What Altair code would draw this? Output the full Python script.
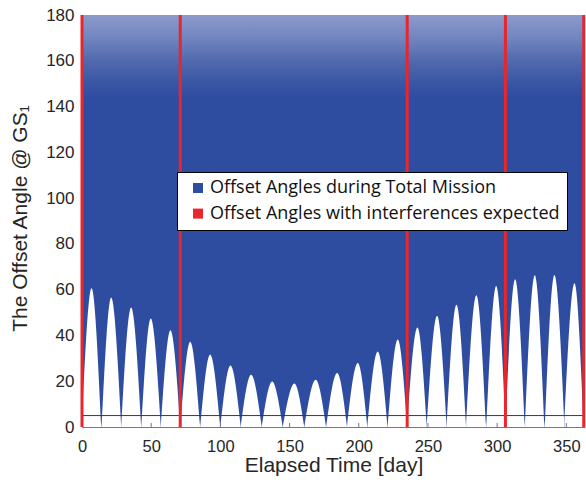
import altair as alt
import pandas as pd

# ---- data ----
cusp_day = [0, 14.1, 28.3, 42.8, 56.9, 71.0, 85.4, 99.9, 114.7, 129.9, 145.1, 160.7,
            176.4, 191.5, 206.2, 220.8, 234.9, 249.2, 263.6, 277.6, 292.1, 306.0,
            320.2, 334.4, 348.6, 362.6]
peak_day = [6.9, 21.1, 35.5, 49.7, 63.9, 78.2, 92.6, 107.3, 122.2, 137.4, 153.5,
            168.9, 184.4, 199.3, 213.7, 228.2, 242.4, 256.6, 270.6, 285.0, 299.3,
            313.0, 327.2, 341.4, 355.9]
peak_val = [60.6, 56.6, 52.2, 47.4, 42.3, 37.2, 31.7, 26.9, 22.8, 19.9, 19.0,
            20.6, 23.6, 28.0, 33.0, 38.2, 43.5, 48.6, 53.4, 57.6, 61.6,
            64.6, 66.3, 66.4, 62.8]
day_range = [0, 363.5]
angle_range = [0, 180]
red_days = [0, 71.0, 235.0, 306.0, 362.6]
threshold = [5]
x_ticks = [0, 50, 100, 150, 200, 250, 300, 350]
y_ticks = [0, 20, 40, 60, 80, 100, 120, 140, 160, 180]
series = ["Offset Angles during Total Mission", "Offset Angles with interferences expected"]

BLUE = "#2F4DA0"
RED = "#E8262C"
TXT = "#262626"

# white gaps under the lower envelope: one arch per pair of cusps
arch_rows = []
for i in range(len(peak_day)):
    arch_rows.append({"arch": i, "day": cusp_day[i], "v": 0.0})
    arch_rows.append({"arch": i, "day": peak_day[i], "v": peak_val[i]})
    arch_rows.append({"arch": i, "day": cusp_day[i + 1], "v": 0.0})
arches = pd.DataFrame(arch_rows)

full = pd.DataFrame({"day": day_range, "low": [angle_range[0]] * 2, "high": [angle_range[1]] * 2})

xs = alt.Scale(domain=day_range, nice=False, zero=False)
ys = alt.Scale(domain=angle_range, nice=False)

grad = alt.Gradient(
    gradient="linear", x1=0, x2=0, y1=0, y2=1,
    stops=[
        alt.GradientStop(offset=0.0, color="#8C9BCB"),
        alt.GradientStop(offset=0.056, color="#7185BF"),
        alt.GradientStop(offset=0.111, color="#5169AE"),
        alt.GradientStop(offset=0.167, color="#3955A4"),
        alt.GradientStop(offset=0.2, color=BLUE),
        alt.GradientStop(offset=1.0, color=BLUE),
    ],
)

base = alt.Chart(full).mark_area(color=grad).encode(
    x=alt.X("day:Q", scale=xs, axis=alt.Axis(
        values=x_ticks, ticks=False, grid=False, labelFlush=False,
        labelFont="Liberation Sans", labelFontSize=16.5, labelColor=TXT, labelPadding=11,
        domainColor="#777777", domainWidth=1,
        title="Elapsed Time [day]", titleFont="Liberation Sans", titleFontSize=21,
        titleFontWeight="normal", titleColor=TXT, titleY=38.5, titleBaseline="middle")),
    y=alt.Y("low:Q", scale=ys, axis=alt.Axis(
        values=y_ticks, ticks=False, grid=False, labelFlush=False,
        labelFont="Liberation Sans", labelFontSize=17, labelColor=TXT, labelPadding=8,
        domainColor="#777777",
        title="The Offset Angle @ GS\u2081", titleFont="Liberation Sans", titleFontSize=21,
        titleFontWeight="normal", titleColor=TXT, titleAngle=270,
        titleX=-62, titleY=203, titleAlign="center", titleBaseline="middle")),
    y2="high:Q",
)

gaps = alt.Chart(arches).mark_area(color="white", interpolate="monotone").encode(
    x=alt.X("day:Q", scale=xs),
    y=alt.Y("v:Q", scale=ys, stack=None),
    detail="arch:N",
)

thr = alt.Chart(pd.DataFrame({"v": threshold})).mark_rule(
    color="#3a3a3a", strokeWidth=1).encode(y=alt.Y("v:Q", scale=ys))

ticks = alt.Chart(pd.DataFrame({"t": x_ticks})).mark_rule(
    color="#777777", strokeWidth=1).encode(
    x=alt.X("t:Q", scale=xs), y=alt.value(412), y2=alt.value(408))

reds = alt.Chart(pd.DataFrame({"day": red_days})).mark_rule(
    color=RED, strokeWidth=3).encode(x=alt.X("day:Q", scale=xs))

leg = alt.Chart(pd.DataFrame({"s": series, "x": [-50, -50], "y": [90, 90]})).mark_square(
    clip=True, size=100, opacity=1).encode(
    x=alt.X("x:Q", scale=xs),
    y=alt.Y("y:Q", scale=ys),
    color=alt.Color("s:N", scale=alt.Scale(domain=series, range=[BLUE, RED]),
                    legend=alt.Legend(
                        title=None, orient="none", legendX=95, legendY=157,
                        direction="vertical", fillColor="white", strokeColor="black",
                        padding=7, symbolType="square", symbolSize=100,
                        symbolStrokeWidth=0, symbolOffset=5, labelOffset=3,
                        labelFont="Open Sans", labelFontSize=18, labelColor="#111111",
                        rowPadding=7.6, labelLimit=600)),
)

chart = alt.layer(base, gaps, thr, ticks, reds, leg).properties(
    width=503, height=412,
    autosize=alt.AutoSizeParams(type="none"),
    padding={"left": 82, "top": 15, "right": 1, "bottom": 60},
).configure_view(stroke=None)

chart.save("out.html", embed_options={"renderer": "svg", "actions": False})
